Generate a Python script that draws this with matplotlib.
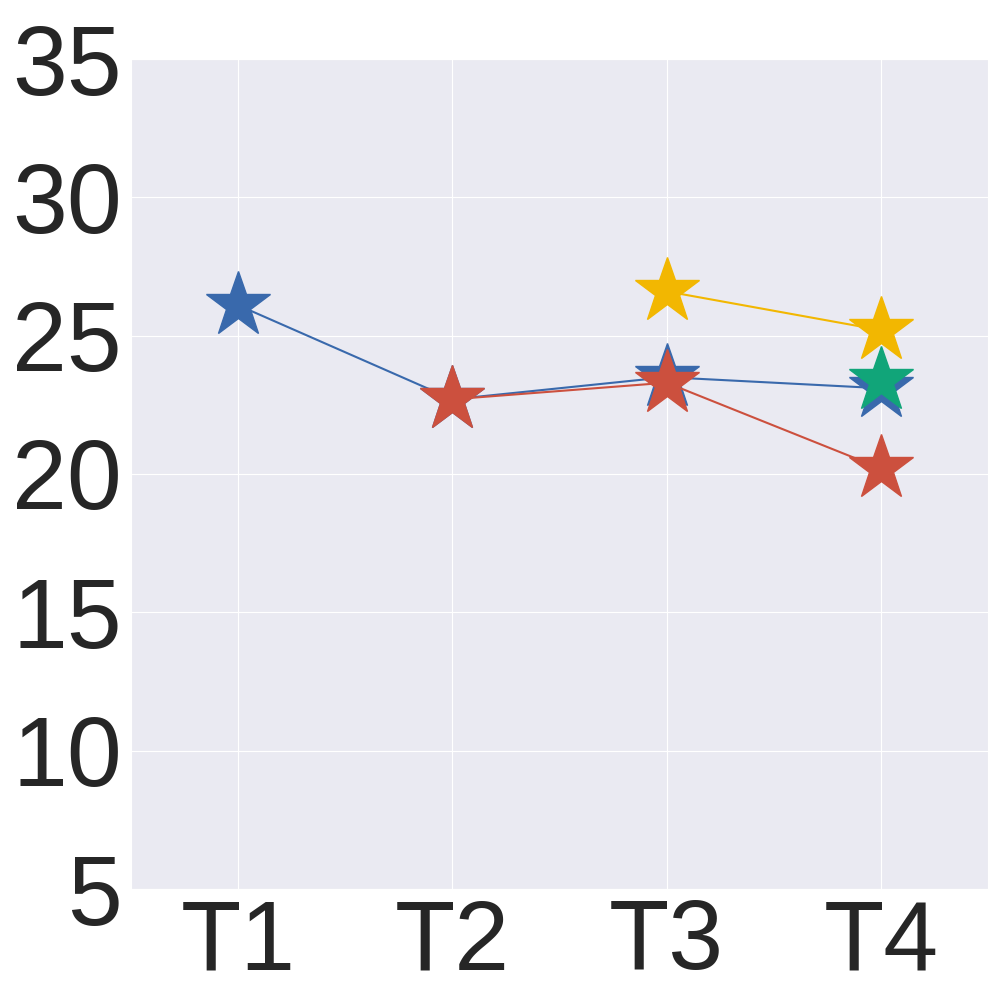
import matplotlib
matplotlib.use('Agg')
import matplotlib.pyplot as plt
import seaborn as sns

tasks = ["T1", "T2", "T3", "T4"]

blue_x = [0, 1, 2, 3]
blue_y = [26.1, 22.7, 23.5, 23.1]

red_x = [1, 2, 3]
red_y = [22.7, 23.3, 20.2]

yellow_x = [2, 3]
yellow_y = [26.6, 25.2]

green_x = [3]
green_y = [23.4]

yticks = [5, 10, 15, 20, 25, 30, 35]


def main():
    sns.set_style("darkgrid")
    plt.rcParams['font.family'] = ['Liberation Sans', 'DejaVu Sans']

    fig, ax = plt.subplots(figsize=(10, 10), dpi=100)
    fig.subplots_adjust(left=0.131, right=0.988, top=0.941, bottom=0.111)

    ms = 49
    ax.plot(blue_x, blue_y, "-*", color="#3969AC", lw=1.5, ms=ms)
    ax.plot(red_x, red_y, "-*", color="#CC503E", lw=1.5, ms=ms)
    ax.plot(yellow_x, yellow_y, "-*", color="#F2B701", lw=1.5, ms=ms)
    ax.plot(green_x, green_y, "-*", color="#11A579", lw=1.5, ms=ms)

    ax.set_xlim(-0.5, 3.5)
    ax.set_ylim(5, 35)
    ax.set_xticks(range(len(tasks)))
    ax.set_xticklabels(tasks)
    ax.set_yticks(yticks)
    ax.tick_params(axis='both', labelsize=71, colors="#262626", pad=3)

    plt.savefig("out.png")


if __name__ == "__main__":
    main()
